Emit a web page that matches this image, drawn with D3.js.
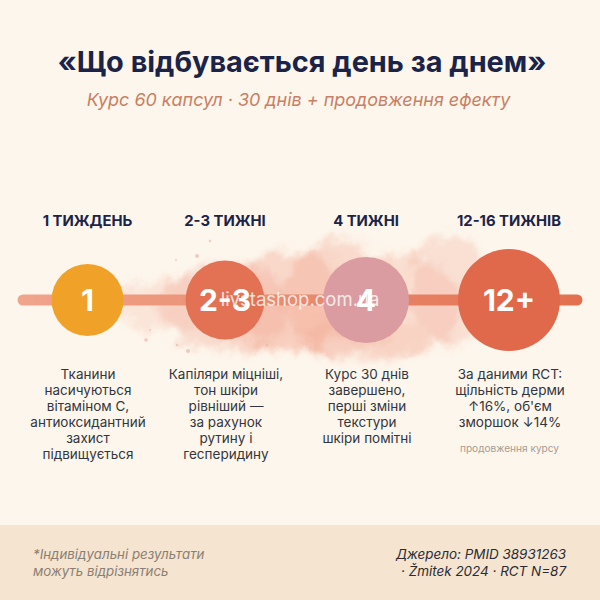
<!DOCTYPE html>
<html>
<head>
  <meta charset="utf-8">
  <title>Що відбувається день за днем</title>
  <script src="https://d3js.org/d3.v7.min.js"></script>
  <style>
    html, body { margin: 0; padding: 0; background: #fdf6ec; }
    svg { display: block; }
    text { font-family: Inter, "Noto Sans", sans-serif; }
  </style>
</head>
<body>
<script type="text/javascript">
  var stages = ["1 ТИЖДЕНЬ", "2-3 ТИЖНІ", "4 ТИЖНІ", "12-16 ТИЖНІВ"];
  var badges = ["1", "2-3", "4", "12+"];
  var weeks = [1, 2.5, 4, 14];
  var notes = [
    ["Тканини", "насичуються", "вітаміном С,", "антиоксидантний", "захист", "підвищується"],
    ["Капіляри міцніші,", "тон шкіри", "рівніший —", "за рахунок", "рутину і", "гесперидину"],
    ["Курс 30 днів", "завершено,", "перші зміни", "текстури", "шкіри помітні"],
    ["За даними RCT:", "щільність дерми", "↑16%, об'єм", "зморшок ↓14%"]
  ];

  var w = 600;
  var h = 600;
  var midY = 300;

  var x = d3.scaleOrdinal().domain(stages).range([87.5, 225, 366, 509]);
  var r = d3.scaleLinear().domain([1, 4, 14]).range([36, 43, 51]);
  var color = d3.scaleOrdinal().domain(stages).range(["#f0a228", "#e27253", "#da9ca1", "#e0694c"]);

  var svg = d3.select("body").append("svg")
    .attr("width", w)
    .attr("height", h);

  var defs = svg.append("defs");

  // rough edge for the watercolor stain
  var stain = defs.append("filter").attr("id", "stain")
    .attr("filterUnits", "userSpaceOnUse")
    .attr("x", 60).attr("y", 180).attr("width", 480).attr("height", 230);
  stain.append("feGaussianBlur").attr("stdDeviation", 4).attr("result", "soft");
  stain.append("feTurbulence").attr("type", "fractalNoise").attr("baseFrequency", 0.05)
    .attr("numOctaves", 5).attr("seed", 11).attr("result", "noise");
  stain.append("feDisplacementMap").attr("in", "soft").attr("in2", "noise")
    .attr("scale", 24).attr("xChannelSelector", "R").attr("yChannelSelector", "G");

  var lineGrad = defs.append("linearGradient").attr("id", "lineGrad")
    .attr("gradientUnits", "userSpaceOnUse")
    .attr("x1", 18).attr("x2", 582).attr("y1", 0).attr("y2", 0);
  lineGrad.append("stop").attr("offset", "0%").attr("stop-color", "#f0a58c");
  lineGrad.append("stop").attr("offset", "100%").attr("stop-color", "#e2704f");

  svg.append("rect").attr("width", w).attr("height", h).attr("fill", "#fdf6ec");
  svg.append("rect").attr("y", 525).attr("width", w).attr("height", 75).attr("fill", "#f4e4d0");

  // watercolor blobs behind the timeline
  var blobs = [
    [165, 305, 50, 26, 0.20],
    [225, 308, 65, 44, 0.30],
    [290, 300, 62, 50, 0.36],
    [340, 298, 55, 58, 0.32],
    [400, 305, 60, 50, 0.28],
    [450, 290, 42, 55, 0.26],
    [365, 340, 62, 24, 0.20],
    [280, 325, 75, 26, 0.16]
  ];
  svg.append("g").attr("filter", "url(#stain)")
    .selectAll("ellipse")
    .data(blobs)
    .enter()
    .append("ellipse")
    .attr("cx", function(d){ return d[0]; })
    .attr("cy", function(d){ return d[1]; })
    .attr("rx", function(d){ return d[2]; })
    .attr("ry", function(d){ return d[3]; })
    .attr("fill", "#f0a08a")
    .attr("fill-opacity", function(d){ return d[4]; });

  // paint splatter
  var splatter = [
    [188, 351, 2], [146, 340, 1.8], [177, 345, 1.2], [210, 241, 1.2],
    [197, 256, 2], [176, 260, 1], [267, 345, 1.5], [150, 330, 1]
  ];
  svg.append("g")
    .selectAll("circle")
    .data(splatter)
    .enter()
    .append("circle")
    .attr("cx", function(d){ return d[0]; })
    .attr("cy", function(d){ return d[1]; })
    .attr("r", function(d){ return d[2]; })
    .attr("fill", "#e9b9a8")
    .attr("fill-opacity", 0.7);

  // title
  svg.append("text")
    .attr("x", 302).attr("y", 72)
    .attr("text-anchor", "middle")
    .attr("font-size", 28.9).attr("font-weight", 700)
    .attr("fill", "#1b2448")
    .text("«Що відбувається день за днем»");

  svg.append("text")
    .attr("x", 298.5).attr("y", 106)
    .attr("text-anchor", "middle")
    .attr("font-size", 17.95).attr("font-style", "italic")
    .attr("fill", "#c97f65")
    .text("Курс 60 капсул · 30 днів + продовження ефекту");

  // timeline
  svg.append("line")
    .attr("x1", 23).attr("x2", 577)
    .attr("y1", midY).attr("y2", midY)
    .attr("stroke", "url(#lineGrad)")
    .attr("stroke-width", 11)
    .attr("stroke-linecap", "round");

  svg.selectAll("text.stage")
    .data(stages)
    .enter()
    .append("text")
    .attr("class", "stage")
    .attr("x", function(d){ return x(d); })
    .attr("y", 225.5)
    .attr("text-anchor", "middle")
    .attr("font-size", 14.8).attr("font-weight", 700)
    .attr("fill", "#1b2448")
    .text(function(d){ return d; });

  svg.selectAll("circle.node")
    .data(stages)
    .enter()
    .append("circle")
    .attr("class", "node")
    .attr("cx", function(d){ return x(d); })
    .attr("cy", midY)
    .attr("r", function(d, i){ return r(weeks[i]); })
    .attr("fill", function(d){ return color(d); });

  // watermark sits between the circles and the numbers
  svg.append("text")
    .attr("x", 300).attr("y", 306)
    .attr("text-anchor", "middle")
    .attr("font-size", 18.5)
    .attr("fill", "#ffffff").attr("fill-opacity", 0.8)
    .text("livstashop.com.ua");

  svg.selectAll("text.badge")
    .data(badges)
    .enter()
    .append("text")
    .attr("class", "badge")
    .attr("x", function(d, i){ return x(stages[i]); })
    .attr("y", midY + 11)
    .attr("text-anchor", "middle")
    .attr("font-size", 30).attr("font-weight", 700)
    .attr("fill", "#ffffff")
    .text(function(d){ return d; });

  // notes under each stage
  var noteGroups = svg.selectAll("text.note")
    .data(notes)
    .enter()
    .append("text")
    .attr("class", "note")
    .attr("text-anchor", "middle")
    .attr("font-size", 13.5)
    .attr("fill", "#33363f");

  noteGroups.selectAll("tspan")
    .data(function(d, i){
      return d.map(function(t){ return { t: t, stage: stages[i] }; });
    })
    .enter()
    .append("tspan")
    .attr("x", function(d){ return x(d.stage) + (d.stage == stages[0] ? 0.5 : 1); })
    .attr("y", function(d, i){ return 378.5 + i * 16; })
    .text(function(d){ return d.t; });

  svg.append("text")
    .attr("x", 509.5).attr("y", 452)
    .attr("text-anchor", "middle")
    .attr("font-size", 10.1)
    .attr("fill", "#a89c92")
    .text("продовження курсу");

  // footer
  svg.append("text")
    .attr("font-size", 13.3).attr("font-style", "italic").attr("fill", "#8b7f74")
    .selectAll("tspan")
    .data(["*Індивідуальні результати", "можуть відрізнятись"])
    .enter()
    .append("tspan")
    .attr("x", 33)
    .attr("y", function(d, i){ return 559 + i * 16.5; })
    .text(function(d){ return d; });

  svg.append("text")
    .attr("font-size", 13.45).attr("font-style", "italic").attr("fill", "#2b2b33")
    .attr("text-anchor", "end")
    .selectAll("tspan")
    .data(["Джерело: PMID 38931263", "· Žmitek 2024 · RCT N=87"])
    .enter()
    .append("tspan")
    .attr("x", 566)
    .attr("y", function(d, i){ return 559 + i * 16.5; })
    .text(function(d){ return d; });
</script>
</body>
</html>
